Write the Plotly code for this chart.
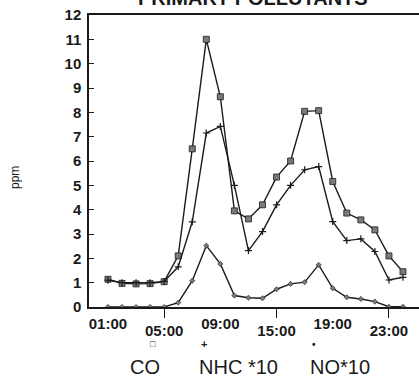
import plotly.graph_objects as go

# Hourly samples (22 readings) and the three pollutant series, in ppm
hours = list(range(1, 23))
co = [1.14, 0.97, 0.95, 0.96, 1.04, 2.1, 6.5, 11.0, 8.64, 3.95, 3.62, 4.2,
      5.34, 6.0, 8.04, 8.07, 5.16, 3.86, 3.58, 3.17, 2.1, 1.45]
nhc10 = [1.1, 1.0, 1.0, 1.0, 1.05, 1.65, 3.5, 7.15, 7.42, 5.0, 2.32, 3.1,
         4.2, 5.0, 5.64, 5.77, 3.51, 2.73, 2.8, 2.28, 1.11, 1.22]
no10 = [0.0, 0.0, 0.0, 0.0, 0.0, 0.18, 1.08, 2.52, 1.77, 0.47, 0.38, 0.36,
        0.73, 0.95, 1.02, 1.73, 0.77, 0.4, 0.33, 0.22, 0.01, 0.01]

upper_ticks = [1, 9, 17]
upper_labels = ["01:00", "09:00", "19:00"]
lower_ticks = [5, 13, 21]
lower_labels = ["05:00", "15:00", "23:00"]

legend_names = ["CO", "NHC *10", "NO*10"]

INK = "#1a1a1a"
MARK = "#7a7a7a"
FONT = "Liberation Sans"
XR = [-0.35, 23.14]

fig = go.Figure()
fig.add_trace(go.Scatter(
    x=hours, y=co, mode="lines+markers", name=legend_names[0],
    line=dict(color=INK, width=1.4),
    marker=dict(symbol="square", size=6, color=MARK, line=dict(color=INK, width=0.8)),
))
fig.add_trace(go.Scatter(
    x=hours, y=nhc10, mode="lines+markers", name=legend_names[1],
    line=dict(color=INK, width=1.4),
    marker=dict(symbol="cross-thin", size=5, line=dict(color=INK, width=1.2)),
))
fig.add_trace(go.Scatter(
    x=hours, y=no10, mode="lines+markers", name=legend_names[2], xaxis="x2",
    line=dict(color=INK, width=1.4),
    marker=dict(symbol="diamond", size=4, color=MARK, line=dict(color=INK, width=0.6)),
))

tickfont = dict(family=FONT, size=15, color=INK, weight="bold")

fig.update_layout(
    width=419, height=380,
    margin=dict(l=89, r=0, t=15, b=73),
    paper_bgcolor="white", plot_bgcolor="white",
    showlegend=False,
    xaxis=dict(
        range=XR, tickvals=upper_ticks, ticktext=upper_labels, ticks="",
        tickfont=tickfont, showgrid=False, zeroline=False,
        showline=True, linecolor=INK, linewidth=1.5, mirror=True,
        ticklabelstandoff=2,
    ),
    xaxis2=dict(
        range=XR, overlaying="x", anchor="y", side="bottom",
        tickvals=lower_ticks, ticktext=lower_labels, ticks="outside",
        ticklen=10, tickwidth=1.4, tickcolor=INK,
        tickfont=tickfont, showgrid=False, zeroline=False, showline=False,
        ticklabelstandoff=0,
    ),
    yaxis=dict(
        range=[0, 12], dtick=1, ticks="inside", ticklen=5, tickwidth=1.4,
        tickcolor=INK, tickfont=tickfont, showgrid=False, zeroline=False,
        showline=True, linecolor=INK, linewidth=1.5, ticklabelstandoff=3,
    ),
)

# Heading above the frame, running off the top of the page
fig.add_annotation(
    text="PRIMARY POLLUTANTS", xref="paper", yref="paper",
    x=(253 - 89) / 330, y=1.0, yshift=4, xanchor="center", yanchor="bottom",
    showarrow=False, font=dict(family=FONT, size=20, color=INK, weight="bold"),
)

# Axis unit
fig.add_annotation(
    text="ppm", xref="paper", yref="paper", x=(15 - 89) / 330, y=(307 - 178) / 292,
    textangle=-90, showarrow=False, xanchor="center", yanchor="middle",
    font=dict(family=FONT, size=12, color=INK),
)

# Legend: symbol above each series name
legend_x = [145, 238, 340]
symbol_x = [153, 204, 314]
symbols = ["\u25a1", "+", "\u2022"]
symbol_sizes = [9, 11, 10]
for name, lx, sx, sym, ss in zip(legend_names, legend_x, symbol_x, symbols, symbol_sizes):
    fig.add_annotation(
        text=name, xref="paper", yref="paper",
        x=(lx - 89) / 330, y=(307 - 367) / 292, showarrow=False,
        xanchor="center", yanchor="middle",
        font=dict(family=FONT, size=20, color=INK),
    )
    fig.add_annotation(
        text=sym, xref="paper", yref="paper",
        x=(sx - 89) / 330, y=(307 - 344) / 292, showarrow=False,
        xanchor="center", yanchor="middle",
        font=dict(family=FONT, size=ss, color=INK, weight="bold"),
    )

fig.write_html("out.html")
